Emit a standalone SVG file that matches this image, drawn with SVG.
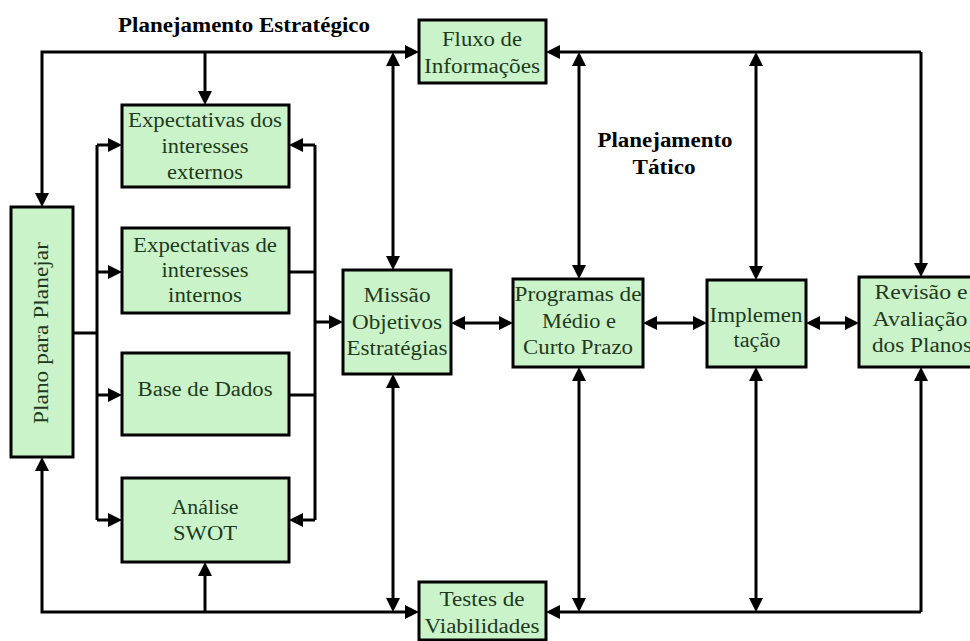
<svg xmlns="http://www.w3.org/2000/svg" width="970" height="641" viewBox="0 0 970 641">
<style>
.box{fill:#cbf3c9;stroke:#000;stroke-width:3}
.t{font-family:"Liberation Serif","Times New Roman",serif;font-size:20px;fill:#1e3a1e;text-anchor:middle}
.h{font-family:"Liberation Serif","Times New Roman",serif;font-size:20px;font-weight:bold;fill:#000;text-anchor:middle}
.c{fill:none;stroke:#000;stroke-width:3}
.a{marker-end:url(#ah)}
.d{marker-start:url(#ah);marker-end:url(#ah)}
</style>
<defs>
<marker id="ah" viewBox="0 0 14 14" refX="10" refY="7" markerWidth="14" markerHeight="14" markerUnits="userSpaceOnUse" orient="auto-start-reverse"><path d="M0,0 L14,7 L0,14 z" fill="#000"/></marker>
</defs>
<rect width="970" height="641" fill="#fff"/>
<g id="connectors">
<path class="c a" d="M205,52 L42,52 L42,203"/>
<path class="c a" d="M205,52 L415,52"/>
<path class="c a" d="M205,52 L205,101"/>
<path class="c a" d="M921,52 L550,52"/>
<path class="c a" d="M921,52 L921,273"/>
<path class="c d" d="M393,56 L393,266"/>
<path class="c d" d="M579,56 L579,275"/>
<path class="c d" d="M756,56 L756,276"/>
<path class="c a" d="M205,612 L42,612 L42,461"/>
<path class="c a" d="M205,612 L205,566"/>
<path class="c a" d="M205,612 L415,612"/>
<path class="c a" d="M921,612 L550,612"/>
<path class="c a" d="M921,612 L921,371"/>
<path class="c d" d="M393,378 L393,608"/>
<path class="c d" d="M579,371 L579,608"/>
<path class="c d" d="M756,371 L756,608"/>
<path class="c d" d="M455,323 L509,323"/>
<path class="c d" d="M647,323 L703,323"/>
<path class="c d" d="M810,323 L855,323"/>
<path class="c" d="M73,333 L97,333"/>
<path class="c" d="M97,145 L97,520"/>
<path class="c a" d="M97,145 L118,145"/>
<path class="c a" d="M97,272 L118,272"/>
<path class="c a" d="M97,395 L118,395"/>
<path class="c a" d="M97,520 L118,520"/>
<path class="c" d="M315,145 L315,520"/>
<path class="c a" d="M315,145 L293,145"/>
<path class="c a" d="M315,520 L293,520"/>
<path class="c" d="M289,272 L315,272"/>
<path class="c" d="M289,395 L315,395"/>
<path class="c a" d="M315,322 L339,322"/>
</g>
<g id="title-estrategico"><text class="h" x="244" y="32" textLength="252" lengthAdjust="spacingAndGlyphs">Planejamento Estratégico</text></g>
<g id="title-tatico">
<text class="h" x="665" y="147" textLength="135" lengthAdjust="spacingAndGlyphs">Planejamento</text>
<text class="h" x="664" y="174" textLength="63" lengthAdjust="spacingAndGlyphs">Tático</text>
</g>
<g id="plano">
<rect class="box" x="11" y="207" width="62" height="250"/>
<text class="t" transform="translate(48,333) rotate(-90)" x="0" y="0" textLength="182" lengthAdjust="spacingAndGlyphs">Plano para Planejar</text>
</g>
<g id="exp-externos">
<rect class="box" x="122" y="105" width="167" height="82"/>
<text class="t" x="205" y="127" textLength="154" lengthAdjust="spacingAndGlyphs">Expectativas dos</text>
<text class="t" x="205" y="153" textLength="87" lengthAdjust="spacingAndGlyphs">interesses</text>
<text class="t" x="205" y="179" textLength="76" lengthAdjust="spacingAndGlyphs">externos</text>
</g>
<g id="exp-internos">
<rect class="box" x="122" y="228" width="167" height="85"/>
<text class="t" x="205" y="252" textLength="144" lengthAdjust="spacingAndGlyphs">Expectativas de</text>
<text class="t" x="205" y="277" textLength="87" lengthAdjust="spacingAndGlyphs">interesses</text>
<text class="t" x="205" y="302" textLength="74" lengthAdjust="spacingAndGlyphs">internos</text>
</g>
<g id="base-dados">
<rect class="box" x="122" y="353" width="167" height="82"/>
<text class="t" x="205" y="396" textLength="135" lengthAdjust="spacingAndGlyphs">Base de Dados</text>
</g>
<g id="swot">
<rect class="box" x="122" y="478" width="167" height="84"/>
<text class="t" x="205" y="514" textLength="67" lengthAdjust="spacingAndGlyphs">Análise</text>
<text class="t" x="205" y="540" textLength="64" lengthAdjust="spacingAndGlyphs">SWOT</text>
</g>
<g id="fluxo">
<rect class="box" x="419" y="20" width="127" height="63"/>
<text class="t" x="482" y="46" textLength="80" lengthAdjust="spacingAndGlyphs">Fluxo de</text>
<text class="t" x="482" y="73" textLength="116" lengthAdjust="spacingAndGlyphs">Informações</text>
</g>
<g id="missao">
<rect class="box" x="343" y="270" width="108" height="104"/>
<text class="t" x="397" y="302" textLength="67" lengthAdjust="spacingAndGlyphs">Missão</text>
<text class="t" x="397" y="329" textLength="90" lengthAdjust="spacingAndGlyphs">Objetivos</text>
<text class="t" x="397" y="355" textLength="101" lengthAdjust="spacingAndGlyphs">Estratégias</text>
</g>
<g id="programas">
<rect class="box" x="513" y="279" width="130" height="88"/>
<text class="t" x="578" y="301" textLength="127" lengthAdjust="spacingAndGlyphs">Programas de</text>
<text class="t" x="579" y="328" textLength="74" lengthAdjust="spacingAndGlyphs">Médio e</text>
<text class="t" x="578" y="354" textLength="110" lengthAdjust="spacingAndGlyphs">Curto Prazo</text>
</g>
<g id="implementacao">
<rect class="box" x="707" y="280" width="99" height="87"/>
<text class="t" x="756" y="322" textLength="93" lengthAdjust="spacingAndGlyphs">Implemen</text>
<text class="t" x="757" y="347" textLength="47" lengthAdjust="spacingAndGlyphs">tação</text>
</g>
<g id="revisao">
<rect class="box" x="859" y="277" width="125" height="90"/>
<text class="t" x="921" y="299" textLength="93" lengthAdjust="spacingAndGlyphs">Revisão e</text>
<text class="t" x="920" y="326" textLength="95" lengthAdjust="spacingAndGlyphs">Avaliação</text>
<text class="t" x="922" y="352" textLength="100" lengthAdjust="spacingAndGlyphs">dos Planos</text>
</g>
<g id="testes">
<rect class="box" x="419" y="582" width="127" height="58"/>
<text class="t" x="482" y="606" textLength="85" lengthAdjust="spacingAndGlyphs">Testes de</text>
<text class="t" x="482" y="633" textLength="115" lengthAdjust="spacingAndGlyphs">Viabilidades</text>
</g>
</svg>
